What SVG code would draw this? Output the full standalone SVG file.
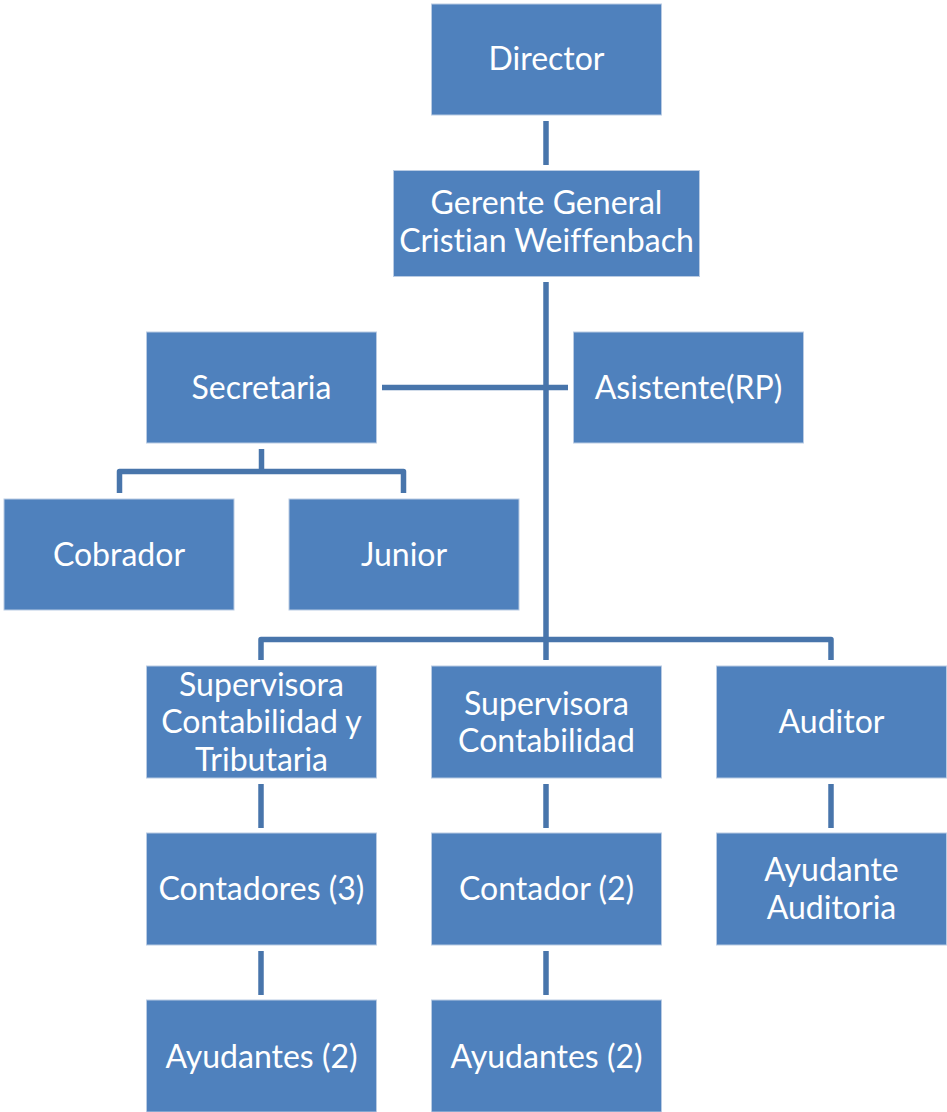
<svg xmlns="http://www.w3.org/2000/svg" width="947" height="1112" viewBox="0 0 947 1112">
<style>
.box{fill:#4f81bd;stroke:#b9cbe3;stroke-width:1}
.lbl{fill:#ffffff;font-family:Lato,"Liberation Sans",sans-serif;font-size:32px;text-anchor:middle;font-variant-ligatures:none}
.conn{fill:none;stroke:#4875ab;stroke-width:5.5;stroke-linejoin:round;stroke-linecap:butt}
</style>
<rect width="947" height="1112" fill="#ffffff"/>
<g id="connectors">
<path class="conn" d="M546 121V165"/>
<path class="conn" d="M546 282V660"/>
<path class="conn" d="M382 387.5H568"/>
<path class="conn" d="M261.5 449V471.5"/>
<path class="conn" d="M119.5 493V471.5H403.5V493"/>
<path class="conn" d="M261 660V639.5H831V660"/>
<path class="conn" d="M261 784V828"/>
<path class="conn" d="M546 784V828"/>
<path class="conn" d="M831 784V828"/>
<path class="conn" d="M261 951V995"/>
<path class="conn" d="M546 951V995"/>
</g>
<g id="director"><rect class="box" x="431.5" y="4" width="230" height="111"/><text class="lbl" x="546.5" y="70">Director</text></g>
<g id="gerente"><rect class="box" x="393.5" y="170.5" width="306" height="106"/><text class="lbl" x="546.5" y="214">Gerente General</text><text class="lbl" x="546.5" y="252">Cristian Weiffenbach</text></g>
<g id="secretaria"><rect class="box" x="146.5" y="332" width="230" height="111"/><text class="lbl" x="261.5" y="399">Secretaria</text></g>
<g id="asistente"><rect class="box" x="573.5" y="332" width="230" height="111"/><text class="lbl" x="688.5" y="399">Asistente(RP)</text></g>
<g id="cobrador"><rect class="box" x="4" y="499" width="230" height="111"/><text class="lbl" x="119" y="566">Cobrador</text></g>
<g id="junior"><rect class="box" x="289" y="499" width="230" height="111"/><text class="lbl" x="404" y="566">Junior</text></g>
<g id="sup_cont_trib"><rect class="box" x="146.5" y="666" width="230" height="112"/><text class="lbl" x="261.5" y="696">Supervisora</text><text class="lbl" x="261.5" y="733">Contabilidad y</text><text class="lbl" x="261.5" y="771">Tributaria</text></g>
<g id="sup_cont"><rect class="box" x="431.5" y="666" width="230" height="112"/><text class="lbl" x="546.5" y="715">Supervisora</text><text class="lbl" x="546.5" y="752">Contabilidad</text></g>
<g id="auditor"><rect class="box" x="716.5" y="666" width="230" height="112"/><text class="lbl" x="831.5" y="733">Auditor</text></g>
<g id="contadores"><rect class="box" x="146.5" y="833" width="230" height="112"/><text class="lbl" x="261.5" y="900">Contadores (3)</text></g>
<g id="contador"><rect class="box" x="431.5" y="833" width="230" height="112"/><text class="lbl" x="546.5" y="900">Contador (2)</text></g>
<g id="ayudante_auditoria"><rect class="box" x="716.5" y="833" width="230" height="112"/><text class="lbl" x="831.5" y="881">Ayudante</text><text class="lbl" x="831.5" y="919">Auditoria</text></g>
<g id="ayudantes1"><rect class="box" x="146.5" y="1000" width="230" height="112"/><text class="lbl" x="261.5" y="1068">Ayudantes (2)</text></g>
<g id="ayudantes2"><rect class="box" x="431.5" y="1000" width="230" height="112"/><text class="lbl" x="546.5" y="1068">Ayudantes (2)</text></g>
</svg>
